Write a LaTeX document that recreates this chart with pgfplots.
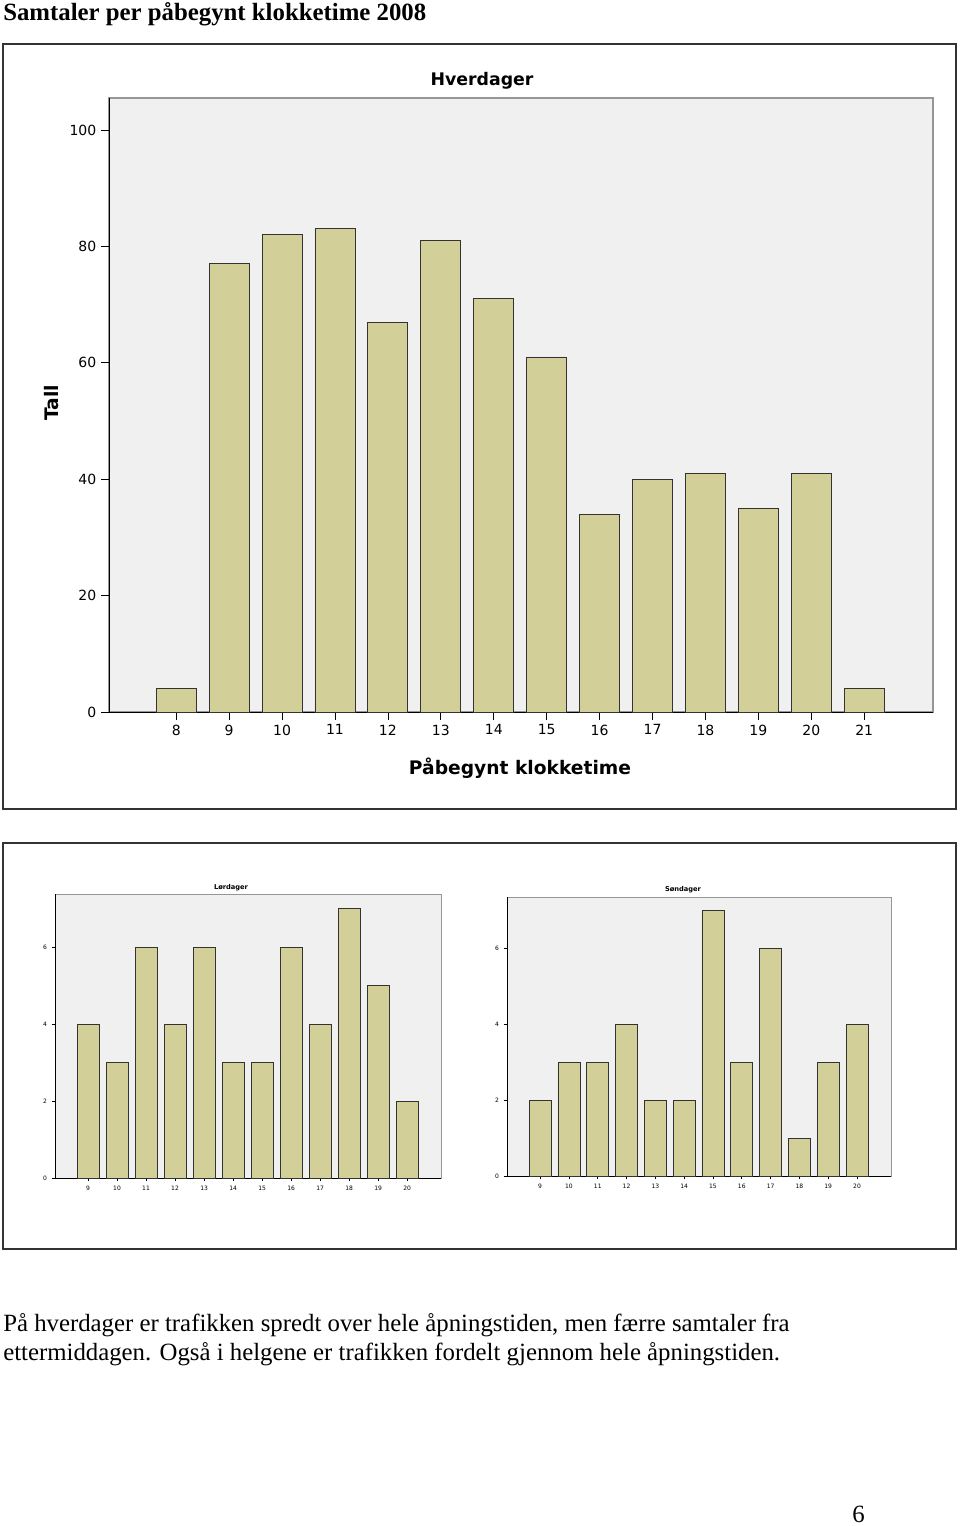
\documentclass[border=0pt]{standalone}
\usepackage{fontspec}
\setmainfont{Liberation Serif}
\newfontfamily\chartfont{DejaVu Sans}
\usepackage{pgfplots}
\pgfplotsset{compat=1.18}
\definecolor{barfill}{RGB}{211,207,152}
\definecolor{plotbg}{RGB}{240,240,240}
\definecolor{framegray}{RGB}{150,150,150}

\pgfplotsset{
  spss/.style={
    scale only axis,
    ybar,
    axis background/.style={fill=plotbg, draw=framegray, line width=1pt},
    axis x line*=bottom,
    axis y line*=left,
    axis line style={-, black, line width=0.6pt},
    tick align=outside,
    tick style={black, line width=0.5pt},
    xtick=data,
    ymin=0,
    /pgf/number format/assume math mode=true,
  },
  spssbar/.style={fill=barfill, draw=black!80, line width=0.7pt},
}

\begin{document}
\begin{tikzpicture}[x=0.75pt,y=-0.75pt]
\useasboundingbox (0,0) rectangle (960,1526);
\coordinate (HV) at (109,712);
\coordinate (LO) at (55,1178);
\coordinate (SO) at (507,1176);

% heading
\node[anchor=base west, inner sep=0pt, font=\fontsize{18.6}{21}\selectfont\bfseries] at (3,21) {Samtaler per påbegynt klokketime 2008};

% frames
\draw[line width=0.8pt, black!80] (3,44) rectangle (956,809);
\draw[line width=0.8pt, black!80] (3,843) rectangle (956,1249);

% ---------------- Hverdager ----------------
\begin{axis}[spss,
  at={(HV)}, anchor=south west,
  width=618pt, height=460.5pt,
  bar width=30pt,
  xmin=6.73, xmax=22.3, ymax=105.5,
  ytick={0,20,40,60,80,100},
  major tick length=6pt,
  tick label style={font=\chartfont\fontsize{10.5}{12}\selectfont},
]
\addplot[spssbar] coordinates {(8,4) (9,77) (10,82) (11,83) (12,67) (13,81) (14,71) (15,61) (16,34) (17,40) (18,41) (19,35) (20,41) (21,4)};
\end{axis}
\node[font=\chartfont\fontsize{13}{15}\selectfont\bfseries] at (482,81) {Hverdager};
\node[rotate=90, font=\chartfont\fontsize{14}{16}\selectfont\bfseries] at (52,403) {Tall};
\node[font=\chartfont\fontsize{14}{16}\selectfont\bfseries] at (520,768) {Påbegynt klokketime};

% ---------------- Lørdager ----------------
\begin{axis}[spss,
  at={(LO)}, anchor=south west,
  width=289.5pt, height=213pt,
  bar width=16.5pt,
  xmin=7.86, xmax=21.17, ymax=7.38,
  ytick={0,2,4,6},
  major tick length=2.5pt,
  tick label style={font=\chartfont\fontsize{4.5}{5}\selectfont},
  axis background/.style={fill=plotbg, draw=framegray, line width=0.6pt},
]
\addplot[spssbar, line width=0.6pt] coordinates {(9,4) (10,3) (11,6) (12,4) (13,6) (14,3) (15,3) (16,6) (17,4) (18,7) (19,5) (20,2)};
\end{axis}
\node[font=\chartfont\fontsize{5}{6}\selectfont\bfseries] at (231,888) {Lørdager};

% ---------------- Søndager ----------------
\begin{axis}[spss,
  at={(SO)}, anchor=south west,
  width=288pt, height=209.25pt,
  bar width=16.5pt,
  xmin=7.85, xmax=21.18, ymax=7.36,
  ytick={0,2,4,6},
  major tick length=2.5pt,
  tick label style={font=\chartfont\fontsize{4.5}{5}\selectfont},
  axis background/.style={fill=plotbg, draw=framegray, line width=0.6pt},
]
\addplot[spssbar, line width=0.6pt] coordinates {(9,2) (10,3) (11,3) (12,4) (13,2) (14,2) (15,7) (16,3) (17,6) (18,1) (19,3) (20,4)};
\end{axis}
\node[font=\chartfont\fontsize{5}{6}\selectfont\bfseries] at (683,890) {Søndager};

% caption
\node[anchor=base west, inner sep=0pt, font=\fontsize{18.6}{21}\selectfont] at (3,1331) {På hverdager er trafikken spredt over hele åpningstiden, men færre samtaler fra};
\node[anchor=base west, inner sep=0pt, font=\fontsize{18.6}{21}\selectfont] at (3,1360) {ettermiddagen. Også i helgene er trafikken fordelt gjennom hele åpningstiden.};
\node[anchor=base west, inner sep=0pt, font=\fontsize{18.6}{21}\selectfont] at (852,1522) {6};
\end{tikzpicture}
\end{document}
